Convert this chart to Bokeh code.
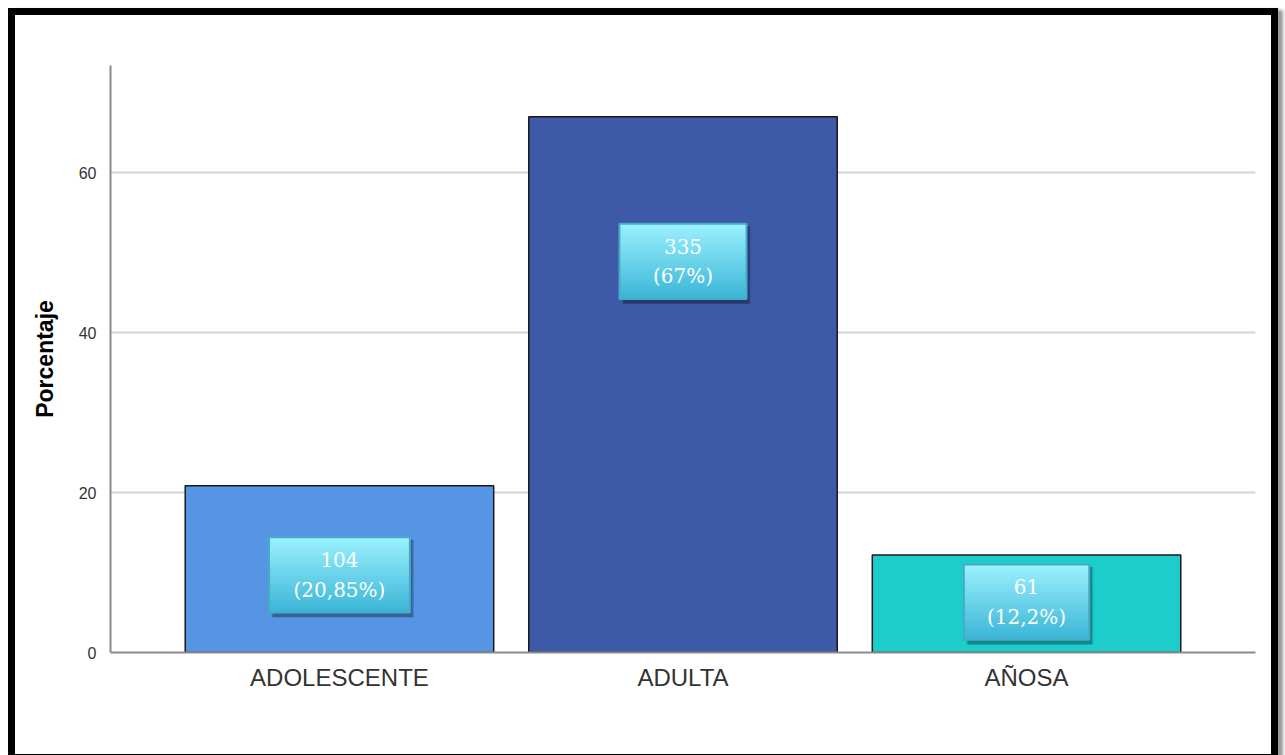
from bokeh.plotting import figure
from bokeh.models import FactorRange, Range1d, ColumnDataSource, FixedTicker
from bokeh.embed import file_html
from bokeh.resources import INLINE
from bokeh.core.properties import value
from bokeh.transform import dodge

# ---- data ----
categories = ["ADOLESCENTE", "ADULTA", "AÑOSA"]
percentages = [20.85, 67, 12.2]
counts = [104, 335, 61]
pct_labels = ["20,85%", "67%", "12,2%"]
bar_colors = ["#5595e4", "#3d59a8", "#1ccdcc"]
y_ticks = [0, 20, 40, 60]

# label box anchors (as placed in the original chart) and widths
label_y = [9.7, 48.9, 6.3]
box_w = [0.41, 0.37, 0.365]
box_h = 9.4

p = figure(width=1270, height=753, output_backend="svg", toolbar_location=None,
           x_range=FactorRange(factors=categories, range_padding=0.111),
           y_range=Range1d(0, 73.4),
           min_border_left=95, min_border_right=30, min_border_top=50, min_border_bottom=116)
p.outline_line_color = None
p.background_fill_color = "white"
p.border_fill_color = "white"
p.styles = {"border": "7px solid black", "margin-left": "8px", "margin-top": "8px",
            "box-shadow": "5px 2px 3px #9a9a9a"}

src = ColumnDataSource(dict(cat=categories, pct=percentages, color=bar_colors))
p.vbar(x="cat", top="pct", width=0.898, source=src, fill_color="color",
       line_color="#1a1a1a", line_width=1.5)

# label boxes: shadow, gradient, border, text
sh = ColumnDataSource(dict(cat=categories, y=[v - 0.45 for v in label_y], w=box_w))
for k, a in [(0.012, 0.15), (0.008, 0.22)]:
    p.rect(x=dodge("cat", k, range=p.x_range), y="y", width="w", height=box_h + 0.3,
           source=sh, fill_color="black", fill_alpha=a, line_color=None)

N = 30
top_c = (0x9c, 0xf1, 0xfe)
bot_c = (0x3a, 0xb5, 0xd6)
gx, gy, gw, gh, gc = [], [], [], [], []
for i, cat in enumerate(categories):
    y_top = label_y[i] + box_h / 2
    y_bot = label_y[i] - box_h / 2
    for j in range(N):
        t = (j + 0.5) / N
        col = tuple(int(round(top_c[c] + (bot_c[c] - top_c[c]) * t)) for c in range(3))
        st = y_top - j * box_h / N
        gx.append(cat)
        gy.append((st + y_bot) / 2)
        gh.append(st - y_bot)
        gw.append(box_w[i])
        gc.append("#%02x%02x%02x" % col)
p.rect(x="cx", y="cy", width="cw", height="ch", fill_color="cc", line_color=None,
       source=ColumnDataSource(dict(cx=gx, cy=gy, cw=gw, ch=gh, cc=gc)))

bsrc = ColumnDataSource(dict(cat=categories, y=label_y, w=box_w,
                             txt=[f"{c}\n({l})" for c, l in zip(counts, pct_labels)]))
p.rect(x="cat", y="y", width="w", height=box_h, source=bsrc, fill_color=None,
       line_color="#47abc6", line_width=2)
p.text(x="cat", y="y", text="txt", source=bsrc, text_align="center", text_baseline="middle",
       text_color="white", text_font=value("DejaVu Serif"), text_font_size="20px",
       text_line_height=1.22)

# axes
p.yaxis.ticker = FixedTicker(ticks=y_ticks)
p.yaxis.axis_label = "Porcentaje"
p.yaxis.axis_label_text_font = "Liberation Sans"
p.yaxis.axis_label_text_font_style = "bold"
p.yaxis.axis_label_text_font_size = "23px"
p.yaxis.axis_label_text_color = "black"
p.yaxis.axis_label_standoff = 18
p.yaxis.major_label_text_font = "Liberation Sans"
p.yaxis.major_label_text_font_size = "16px"
p.yaxis.major_label_text_color = "#333333"
p.yaxis.major_label_standoff = 8
for ax in (p.xaxis[0], p.yaxis[0]):
    ax.axis_line_color = "#8a8a8a"
    ax.axis_line_width = 2
    ax.major_tick_line_color = None
    ax.minor_tick_line_color = None
p.xaxis.major_label_text_font = "Liberation Sans"
p.xaxis.major_label_text_font_size = "24px"
p.xaxis.major_label_text_color = "#333333"
p.xaxis.major_label_standoff = 5

p.xgrid.grid_line_color = None
p.ygrid.ticker = FixedTicker(ticks=y_ticks[1:])
p.ygrid.grid_line_color = "#d4d4d4"
p.ygrid.grid_line_width = 2

open("out.html", "w").write(file_html(p, INLINE))
